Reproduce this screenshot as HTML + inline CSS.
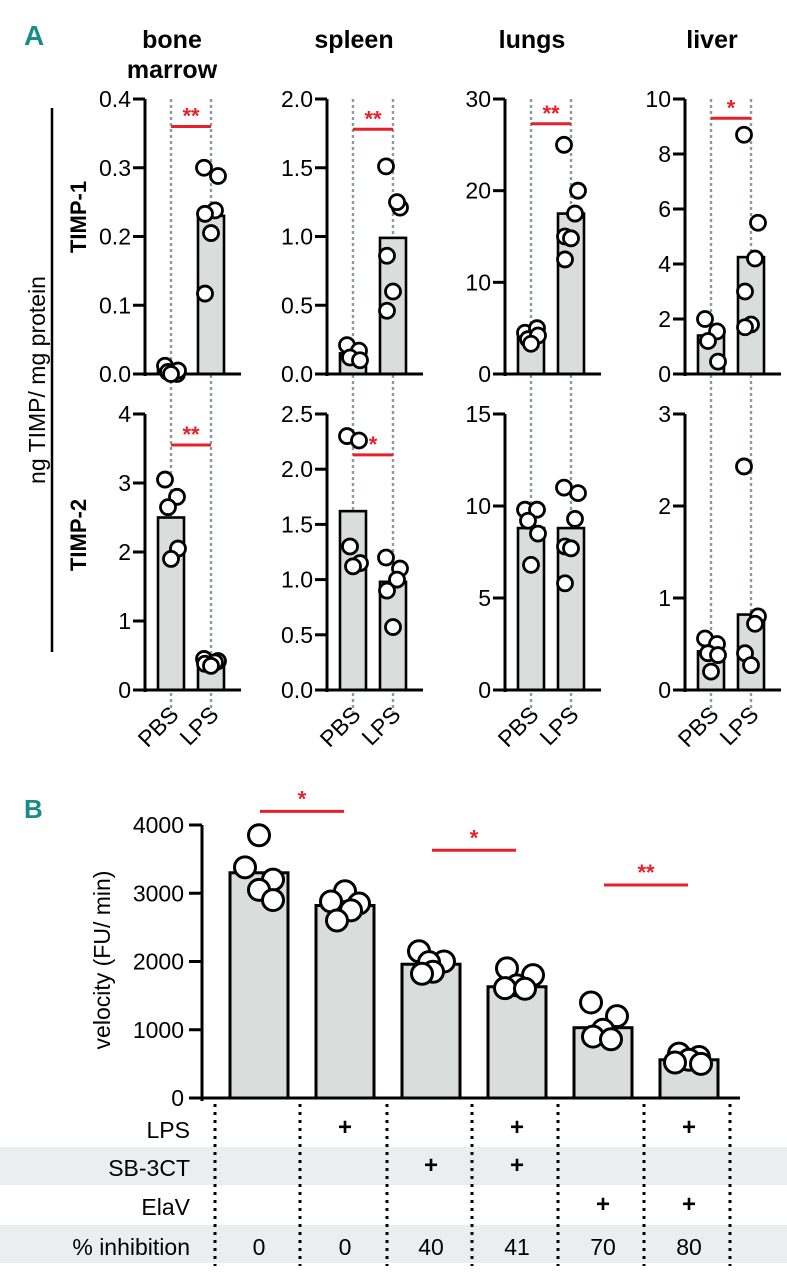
<!DOCTYPE html>
<html><head><meta charset="utf-8">
<style>
html,body{margin:0;padding:0;background:#fff;}
svg{display:block;font-family:"Liberation Sans",sans-serif;}
</style></head>
<body>
<svg id="fig" width="787" height="1280" viewBox="0 0 787 1280">
</svg>
<script>
// ---- Panel A data ----
const tissues = ["bone marrow","spleen","lungs","liver"];
const groupsA = ["PBS","LPS"];
const t1Max = [0.4, 2.0, 30, 10];
const t1Ticks = [[0,0.1,0.2,0.3,0.4],[0,0.5,1.0,1.5,2.0],[0,10,20,30],[0,2,4,6,8,10]];
const t1Bars = [[0.005,0.23],[0.15,0.99],[4.0,17.5],[1.4,4.25]];
const t1Pts = [
 [[0.012,0.0,0.003,0.005,0.0],[0.30,0.288,0.238,0.233,0.205,0.117]],
 [[0.21,0.17,0.12,0.1],[1.51,1.21,1.25,0.86,0.6,0.46]],
 [[4.5,5.0,3.8,4.2,3.3],[25,20,17.5,15,14.8,12.5]],
 [[2.0,1.55,1.2,0.45],[8.7,5.5,4.2,3.0,1.8,1.7]]
];
const t2Max = [4, 2.5, 15, 3];
const t2Ticks = [[0,1,2,3,4],[0,0.5,1.0,1.5,2.0,2.5],[0,5,10,15],[0,1,2,3]];
const t2Bars = [[2.5,0.4],[1.62,0.98],[8.8,8.8],[0.42,0.82]];
const t2Pts = [
 [[3.05,2.8,2.65,2.05,1.9],[0.45,0.42,0.4,0.38,0.35]],
 [[2.3,2.26,1.3,1.15,1.12],[1.2,1.1,1.0,0.9,0.57]],
 [[9.8,9.8,9.2,8.5,6.8],[11,10.7,9.3,7.8,7.7,5.8]],
 [[0.56,0.5,0.4,0.38,0.2],[2.43,0.8,0.72,0.4,0.27]]
];
const t1Sig = [["**",0.36],["**",1.78],["**",27.3],["*",9.3]];
const t2Sig = [["**",3.55],["*",2.13],null,null];
const tickDec = [1,1,0,0];
const tickDec2 = [0,1,0,0];
// ---- Panel B data ----
const condB = ["c1","c2","c3","c4","c5","c6"];
const barsB = [3300,2820,1960,1630,1030,560];
const ptsB = [[3850,3380,3200,3050,2900],[3030,2880,2850,2750,2600],[2150,2000,1990,1850,1820],[1900,1800,1650,1610,1600],[1400,1200,1000,900,860],[650,600,560,520,500]];
const ticksB = [0,1000,2000,3000,4000];
const rowLabels = ["LPS","SB-3CT","ElaV","% inhibition"];
const lpsRow = ["","+","","+","","+"];
const sbRow = ["","","+","+","",""];
const elaRow = ["","","","","+","+"];
const inhibRow = ["0","0","40","41","70","80"];
const sigB = [[0,1,"*",4200],[2,3,"*",3630],[4,5,"**",3120]];

const svg=document.getElementById('fig');
const NS='http://www.w3.org/2000/svg';
function mk(tag,at,parent,txt){const e=document.createElementNS(NS,tag);for(const k in at)e.setAttribute(k,at[k]);if(txt!==undefined)e.textContent=txt;(parent||svg).appendChild(e);return e;}

let t=mk('text',{x:24,y:45,'font-size':28,'font-weight':'bold',fill:'#1a8a8a'},svg,'A');


t=mk('text',{x:24,y:818,'font-size':26,'font-weight':'bold',fill:'#1a8a8a'},svg,'B');



t=mk('text',{x:0,y:0,'font-size':23,'text-anchor':'middle',transform:'translate(45,380) rotate(-90)'},svg,'ng TIMP/ mg protein');


let l=mk('line',{x1:52,y1:108,x2:52,y2:652,stroke:'#000','stroke-width':2.5});


t=mk('text',{x:0,y:0,'font-size':22,'font-weight':'bold','text-anchor':'middle',transform:'translate(86,217) rotate(-90)'},svg,'TIMP-1');


t=mk('text',{x:0,y:0,'font-size':22,'font-weight':'bold','text-anchor':'middle',transform:'translate(86,535) rotate(-90)'},svg,'TIMP-2');



const axX=[145,327,505,685];
const rows=[{top:99,bot:374,max:t1Max,ticks:t1Ticks,bars:t1Bars,pts:t1Pts,sig:t1Sig,dec:tickDec,name:'timp1'},
            {top:414,bot:690,max:t2Max,ticks:t2Ticks,bars:t2Bars,pts:t2Pts,sig:t2Sig,dec:tickDec2,name:'timp2'}];
const jit=[[-6,6,-3,7,0,-8],[-7,7,4,-6,0,-6]];

tissues.forEach((ts,c)=>{
  const ax=axX[c]; const gx=[ax+26,ax+66];
  const words = ts==="bone marrow"?["bone","marrow"]:[ts];
  words.forEach((w,i)=>{
    const tt=mk('text',{x:ax+27,y:48+i*30,'font-size':25,'font-weight':'bold','text-anchor':'middle'},svg,w);
    
    
  });
  gx.forEach(x=>{const d=mk('line',{x1:x,y1:99,x2:x,y2:714,stroke:'#8c9aa3','stroke-width':2.4,'stroke-dasharray':'3,3'});
    
    });
  rows.forEach((r,ri)=>{
    const g=mk('g',{});
    
    
    const y=v=>r.bot-(v/r.max[c])*(r.bot-r.top);
    r.bars[c].forEach((v,gi)=>{
      const b=mk('rect',{x:gx[gi]-13,y:y(v),width:26,height:r.bot-y(v),fill:'#d9dedd',stroke:'#000','stroke-width':2.6},g);
      
      
    });
    mk('line',{x1:ax,y1:r.top,x2:ax,y2:r.bot+2,stroke:'#000','stroke-width':3},g);
    mk('line',{x1:ax-12,y1:r.bot,x2:ax+96,y2:r.bot,stroke:'#000','stroke-width':3},g);
    r.ticks[c].forEach(v=>{
      mk('line',{x1:ax-12,y1:y(v),x2:ax,y2:y(v),stroke:'#000','stroke-width':3},g);
      const tl=mk('text',{x:ax-14,y:y(v)+8,'font-size':23,'text-anchor':'end'},g,v.toFixed(r.dec[c]));
      
      
    });
    r.pts[c].forEach((arr,gi)=>{
      arr.forEach((v,i)=>{
        const p=mk('circle',{cx:gx[gi]+jit[gi][i%6],cy:y(v),r:7.5,fill:'#fff',stroke:'#000','stroke-width':2.8},g);
        
        
      });
    });
    const s=r.sig[c];
    if(s){
      const x1=gx[0], x2=gx[1];
      mk('line',{x1:x1,y1:y(s[1]),x2:x2,y2:y(s[1]),stroke:'#e8202a','stroke-width':3},g);
      const st=mk('text',{x:(x1+x2)/2,y:y(s[1])-3,'font-size':22,'font-weight':'bold',fill:'#e8202a','text-anchor':'middle'},g,s[0]);
      
      
    }
  });
  groupsA.forEach((gname,gi)=>{
    const xl=mk('text',{x:0,y:0,'font-size':23,'text-anchor':'end',transform:`translate(${gx[gi]+9},${716}) rotate(-45)`},svg,gname);
    
    
  });
});

// ---- Panel B ----
const gB=mk('g',{});


const bTop=825,bBot=1098,bMax=4000;
const yb=v=>bBot-(v/bMax)*(bBot-bTop);
const xb=i=>259+i*86;
mk('rect',{x:0,y:1147,width:787,height:38,fill:'#ebeef0'},gB);
mk('rect',{x:0,y:1225,width:787,height:38,fill:'#ebeef0'},gB);
barsB.forEach((v,i)=>{
  const b=mk('rect',{x:xb(i)-29,y:yb(v),width:58,height:bBot-yb(v),fill:'#d9dedd',stroke:'#000','stroke-width':3},gB);
  
  
});
mk('line',{x1:202,y1:bTop,x2:202,y2:bBot+3,stroke:'#000','stroke-width':3},gB);
mk('line',{x1:189,y1:bBot,x2:740,y2:bBot,stroke:'#000','stroke-width':3},gB);
ticksB.forEach(v=>{
  mk('line',{x1:189,y1:yb(v),x2:202,y2:yb(v),stroke:'#000','stroke-width':3},gB);
  const tl=mk('text',{x:184,y:yb(v)+8,'font-size':23,'text-anchor':'end'},gB,String(v));
  
  
});
t=mk('text',{x:0,y:0,'font-size':23,'text-anchor':'middle',transform:'translate(110,960) rotate(-90)'},gB,'velocity (FU/ min)');


const jb=[[0,-14,14,0,14],[0,-14,14,6,-8],[-12,13,-2,2,-9],[-10,16,0,-12,8],[-12,14,0,-10,8],[-10,10,0,-14,12]];
ptsB.forEach((arr,i)=>arr.forEach((v,k)=>{
  const p=mk('circle',{cx:xb(i)+jb[i][k],cy:yb(v),r:10.5,fill:'#fff',stroke:'#000','stroke-width':3},gB);
  
  
}));
sigB.forEach(s=>{
  mk('line',{x1:xb(s[0])+1,y1:yb(s[3]),x2:xb(s[1])-1,y2:yb(s[3]),stroke:'#e8202a','stroke-width':3},gB);
  const st=mk('text',{x:(xb(s[0])+xb(s[1]))/2,y:yb(s[3])-5,'font-size':22,'font-weight':'bold',fill:'#e8202a','text-anchor':'middle'},gB,s[2]);
  
  
});
[215,300,387,472,558,644,730].forEach(x=>{
  const d=mk('line',{x1:x,y1:1104,x2:x,y2:1266,stroke:'#000','stroke-width':3,'stroke-dasharray':'3,5'},gB);
  
  
});
const rowY=[1138,1176,1215,1255];
rowLabels.forEach((lab,ri)=>{
  const tl=mk('text',{x:190,y:rowY[ri],'font-size':23,'text-anchor':'end'},gB,lab);
  
  
});
[lpsRow,sbRow,elaRow].forEach((row,ri)=>row.forEach((v,i)=>{
  if(!v)return;
  const tl=mk('text',{x:xb(i),y:rowY[ri]-3,'font-size':24,'font-weight':'bold','text-anchor':'middle'},gB,v);
  
  
}));
inhibRow.forEach((v,i)=>{
  const tl=mk('text',{x:xb(i),y:rowY[3],'font-size':23,'text-anchor':'middle'},gB,v);
  
  
});
</script>
</body></html>
